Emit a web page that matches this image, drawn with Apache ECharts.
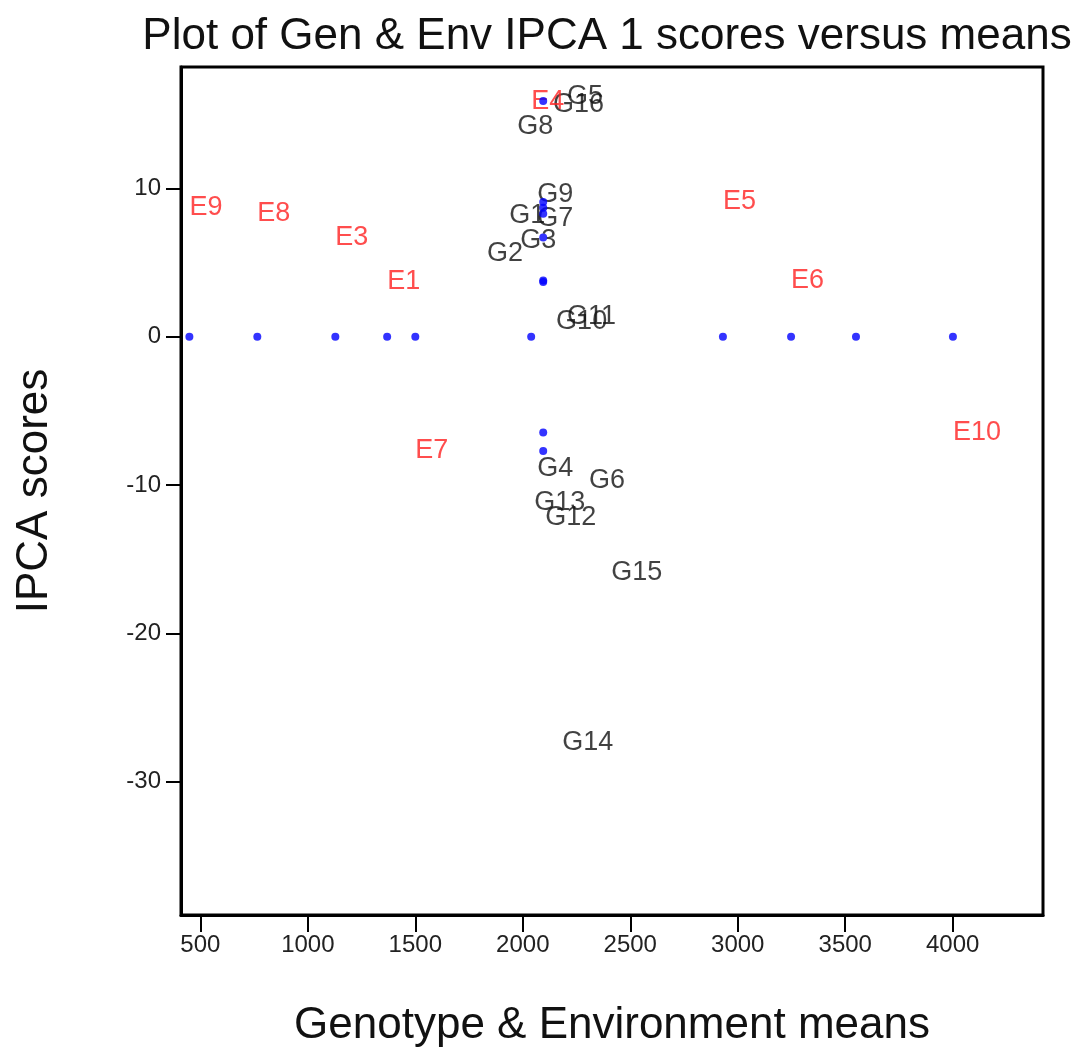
<!DOCTYPE html>
<html>
<head>
<meta charset="utf-8">
<script src="https://cdn.jsdelivr.net/npm/echarts@6/dist/echarts.min.js"></script>
<style>
  html, body { margin: 0; padding: 0; background: #fff; }
  #plot { width: 1084px; height: 1060px; }
</style>
</head>
<body>
<div id="plot"></div>
<script>
// environments: mean, IPCA 1 score (E2 label is not shown in the picture)
var envNames  = ['E1', 'E2', 'E3', 'E4', 'E5', 'E6', 'E7', 'E8', 'E9', 'E10'];
var envMeans  = [1369, 3550, 1128, 2039, 2931, 3248, 1500, 765, 449, 4001];
var envScores = [3.7, null, 6.7, 15.9, 9.1, 3.8, -7.7, 8.3, 8.7, -6.45];

// genotypes: mean, IPCA 1 score
var genNames  = ['G1', 'G2', 'G3', 'G4', 'G5', 'G6', 'G7', 'G8', 'G9', 'G10', 'G11', 'G12', 'G13', 'G14', 'G15', 'G16'];
var genMeans  = [1937, 1834, 1988, 2067, 2206, 2308, 2067, 1974, 2067, 2155, 2206, 2104, 2053, 2183, 2411, 2141];
var genScores = [8.2, 5.6, 6.5, -8.9, 16.2, -9.7, 8.0, 14.2, 9.6, 1.0, 1.4, -12.2, -11.2, -27.4, -15.9, 15.7];

var grandMean = 2095;

var xTicks = [500, 1000, 1500, 2000, 2500, 3000, 3500, 4000];
var yTicks = [-30, -20, -10, 0, 10];

var font = 'Liberation Sans, Arial, sans-serif';

// blue dots: environment means on the zero line, environment scores on the grand mean
var dots = [];
envMeans.forEach(function (m) { dots.push([m, 0]); });
envScores.forEach(function (s) { if (s !== null) dots.push([grandMean, s]); });

var genLabels = genNames.map(function (n, i) {
  return { name: n, value: [genMeans[i], genScores[i]] };
});
var envLabels = [];
envNames.forEach(function (n, i) {
  if (envScores[i] !== null) envLabels.push({ name: n, value: [envMeans[i], envScores[i]] });
});

var myChart = echarts.init(document.getElementById('plot'));

var option = {
  animation: false,
  title: {
    text: 'Plot of Gen & Env IPCA 1 scores versus means',
    left: 602,
    textAlign: 'center',
    top: 10,
    textStyle: { fontFamily: font, fontSize: 44, fontWeight: 'normal', color: '#111' }
  },
  grid: {
    left: 181, right: 41, top: 67, bottom: 145,
    show: true, borderColor: '#000', borderWidth: 3, backgroundColor: '#fff'
  },
  xAxis: {
    type: 'value',
    min: 410, max: 4420,
    name: 'Genotype & Environment means',
    nameLocation: 'middle',
    nameGap: 89,
    nameTextStyle: { fontFamily: font, fontSize: 44, color: '#111' },
    splitLine: { show: false },
    axisLine: { show: true, onZero: false, lineStyle: { color: '#000', width: 3 } },
    axisTick: { show: true, length: 17, customValues: xTicks, lineStyle: { color: '#000', width: 2 } },
    axisLabel: {
      customValues: xTicks, margin: 18, fontFamily: font, fontSize: 24, color: '#222',
      formatter: function (v) { return String(v); }
    }
  },
  yAxis: {
    type: 'value',
    min: -39, max: 18.2,
    name: 'IPCA scores',
    nameLocation: 'middle',
    nameGap: 124,
    nameTextStyle: { fontFamily: font, fontSize: 44, color: '#111' },
    splitLine: { show: false },
    axisLine: { show: true, onZero: false, lineStyle: { color: '#000', width: 3 } },
    axisTick: { show: true, length: 15, customValues: yTicks, lineStyle: { color: '#000', width: 2 } },
    axisLabel: {
      customValues: yTicks, margin: 20, fontFamily: font, fontSize: 24, color: '#222',
      formatter: function (v) { return String(v); }
    }
  },
  series: [
    {
      name: 'genotypes',
      type: 'scatter',
      data: genLabels,
      symbolSize: 0,
      label: {
        show: true, position: 'right', distance: 0, formatter: '{b}',
        fontFamily: font, fontSize: 27, color: '#111'
      },
      z: 2
    },
    {
      name: 'environments',
      type: 'scatter',
      data: envLabels,
      symbolSize: 0,
      label: {
        show: true, position: 'right', distance: 0, formatter: '{b}',
        fontFamily: font, fontSize: 27, color: '#ff2020'
      },
      z: 3
    },
    {
      name: 'points',
      type: 'scatter',
      data: dots,
      symbol: 'circle',
      symbolSize: 8,
      itemStyle: { color: '#0000ff' },
      z: 4
    }
  ]
};

myChart.setOption(option);
</script>
</body>
</html>
